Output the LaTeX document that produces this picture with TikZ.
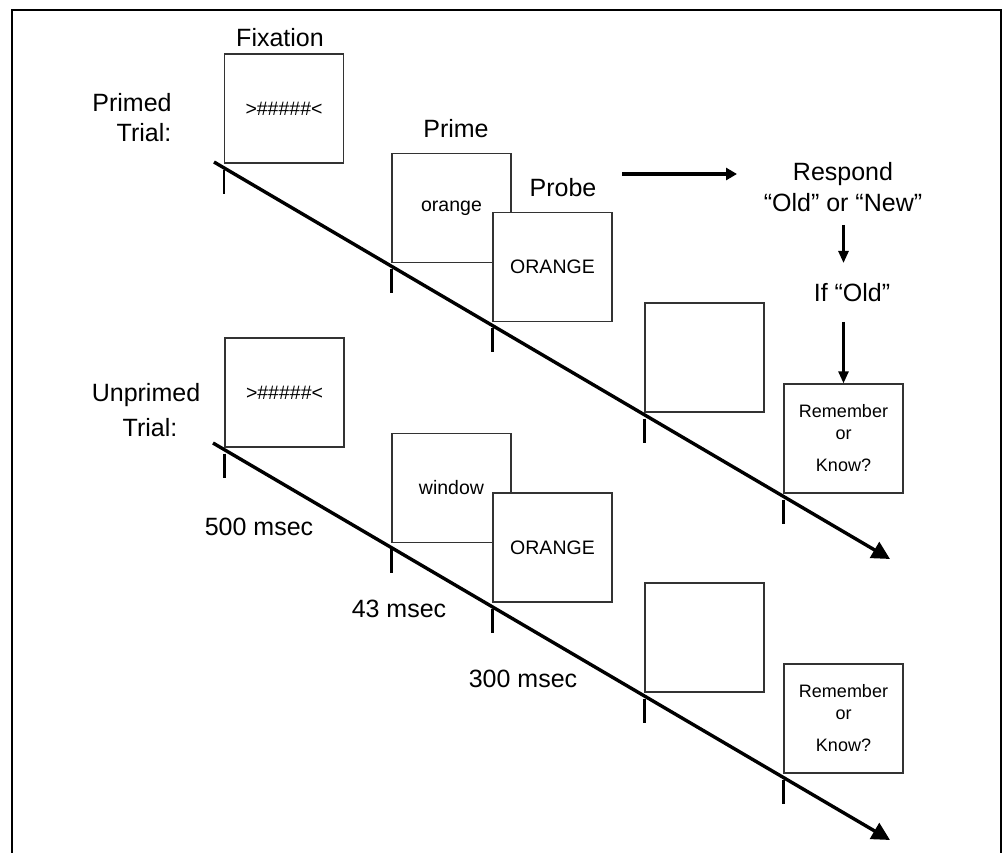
\documentclass[tikz,border=0pt]{standalone}
\usepackage{fontspec}
\setmainfont{Liberation Sans}
\usetikzlibrary{arrows.meta}
\begin{document}
\begin{tikzpicture}[x=1pt,y=-1pt,
  screen/.style={draw=black!80, line width=1.3pt, fill=white, minimum width=119pt,
    minimum height=109pt, inner sep=0pt, font=\fontsize{19.5}{23}\selectfont, align=center},
  rk/.style={font=\fontsize{18}{22}\selectfont},
  lbl/.style={font=\fontsize{25}{30}\selectfont, anchor=base, inner sep=0pt},
  timeline/.style={line width=3.4pt, -{Triangle[length=18pt,width=18pt]}},
  tickmark/.style={line width=2.6pt},
  flow/.style={line width=3.2pt, -{Triangle[length=11pt,width=12pt]}},
  down/.style={line width=2.6pt, -{Triangle[length=12pt,width=10pt]}}
]
\useasboundingbox (0,0) rectangle (1005,853);
\fill[white] (0,0) rectangle (1005,853);
% frame
\draw[line width=2.5pt] (12,880) -- (12,10) -- (1001,10) -- (1001,880);

% ---------- Primed trial ----------
\coordinate (s1) at (214,162);
\coordinate (e1) at (890,559);
\draw[timeline] (s1) -- (e1);

\node[screen] (fix1) at (284,108.5) {>\#\#\#\#\#<};
\node[screen] (prime1) at (451.5,208) {orange};
\node[screen] (probe1) at (552.5,267) {ORANGE};
\node[screen] (blank1) at (704.5,357.5) {};
\node[screen,rk] (rem1) at (843.5,438.5) {Remember\\or\\[10pt]Know?};

\foreach \b in {fix1,prime1,probe1,blank1,rem1}
  \draw[tickmark] ([yshift=-6pt]\b.south west) -- ++(0,24);

\node[lbl] (lfix) at (280,47) {Fixation};
\node[lbl] (lprime) at (456,138) {Prime};
\node[lbl] (lprobe) at (563,197) {Probe};
\node[lbl] (lprimed) at (132,112) {Primed};
\node[lbl] (ltrial1) at (144,142) {Trial:};

\node[lbl] (respond) at (843,181) {Respond};
\node[lbl] (oldnew) at (843,212) {“Old” or “New”};
\node[lbl] (ifold) at (852,302) {If “Old”};

\coordinate (fa) at (622,174);
\coordinate (fb) at (737,174);
\draw[flow] (fa) -- (fb);
\coordinate (d1a) at (843.5,225);
\coordinate (d1b) at (843.5,263);
\coordinate (d2a) at (843.5,322);
\draw[down] (d1a) -- (d1b);
\draw[down] (d2a) -- (rem1.north);

% ---------- Unprimed trial ----------
\coordinate (s2) at (213,443);
\coordinate (e2) at (890,840);
\draw[timeline] (s2) -- (e2);

\node[screen] (fix2) at (284.5,392.5) {>\#\#\#\#\#<};
\node[screen] (win2) at (451.5,488) {window};
\node[screen] (probe2) at (552.5,547.5) {ORANGE};
\node[screen] (blank2) at (704.5,637.5) {};
\node[screen,rk] (rem2) at (843.5,718.5) {Remember\\or\\[10pt]Know?};

\foreach \b in {fix2,win2,probe2,blank2,rem2}
  \draw[tickmark] ([yshift=-6pt]\b.south west) -- ++(0,24);

\node[lbl] (lunprimed) at (146,402) {Unprimed};
\node[lbl] (ltrial2) at (150,436) {Trial:};

\node[lbl] (t500) at (259,535) {500 msec};
\node[lbl] (t43) at (399,617) {43 msec};
\node[lbl] (t300) at (523,687) {300 msec};
\end{tikzpicture}
\end{document}
